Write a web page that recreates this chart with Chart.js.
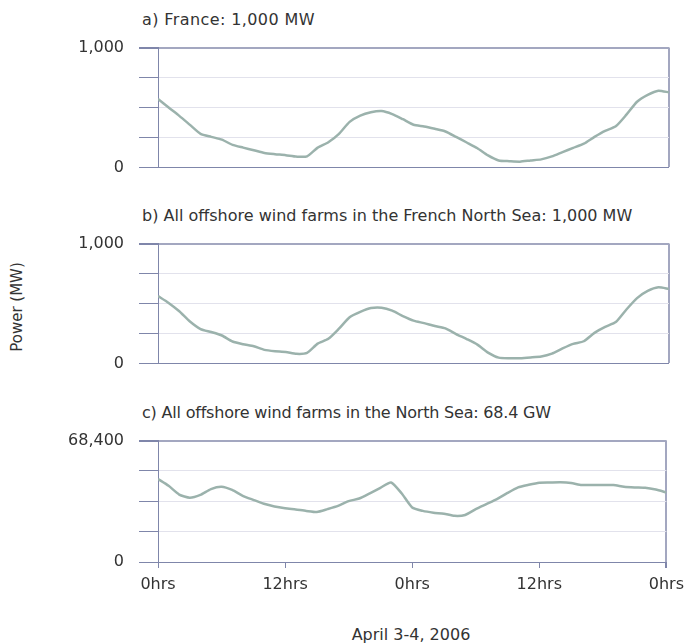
<!DOCTYPE html>
<html>
<head>
<meta charset="utf-8">
<script src="https://cdn.jsdelivr.net/npm/chart.js@4.4.1/dist/chart.umd.min.js"></script>
<style>
  html, body { margin: 0; padding: 0; background: #fff; }
  body { width: 691px; height: 644px; position: relative; overflow: hidden;
         font-family: "DejaVu Sans", sans-serif; color: #333; }
  .box { position: absolute; left: 0; width: 691px; }
  .txt { position: absolute; font-size: 16px; line-height: 19px; white-space: nowrap; }
</style>
</head>
<body>
<div class="txt" style="left:142px; top:10px; letter-spacing:0.4px;">a) France: 1,000 MW</div>
<div class="txt" style="left:142px; top:206px;">b) All offshore wind farms in the French North Sea: 1,000 MW</div>
<div class="txt" style="left:142px; top:403px; letter-spacing:-0.2px;">c) All offshore wind farms in the North Sea: 68.4 GW</div>
<div class="txt" style="left:17px; top:307px; font-size:15px; transform: translate(-50%,-50%) rotate(-90deg);">Power (MW)</div>
<div class="txt" style="left:411px; top:625px; transform: translateX(-50%);">April 3-4, 2006</div>

<div class="box" style="top:23px; height:169px;"><canvas id="chartA"></canvas></div>
<div class="box" style="top:219px; height:169px;"><canvas id="chartB"></canvas></div>
<div class="box" style="top:416px; height:182px;"><canvas id="chartC"></canvas></div>

<script>
// hours after midnight, April 3 (0) to midnight April 5 (48)
const hours = [0,1,2,3,4,5,6,7,8,9,10,11,12,13,14,15,16,17,18,19,20,21,22,23,24,
               25,26,27,28,29,30,31,32,33,34,35,36,37,38,39,40,41,42,43,44,45,46,47,48];

// a) France, MW
const franceMW = [572,500,430,355,280,255,232,188,165,143,120,110,102,90,92,165,210,280,380,432,
                  460,470,445,402,356,342,322,300,255,208,160,100,58,52,48,58,67,92,128,163,
                  198,255,305,343,440,548,605,640,626];

// b) French North Sea offshore, MW
const frenchSeaMW = [562,505,435,350,287,262,233,183,160,143,113,102,96,80,88,165,205,290,385,430,
                     462,465,440,395,357,336,312,292,245,203,157,90,48,43,44,50,58,82,125,163,
                     185,255,305,345,450,545,605,635,622];

// c) whole North Sea offshore, MW
const northSeaMW = [46750,42900,38000,36200,37800,41100,42400,40600,37300,35000,32800,31300,30300,29600,28800,
                    28200,29800,31600,34300,35800,38700,41800,44800,38700,30700,28800,27800,27200,26000,26500,
                    29800,32600,35400,38900,42000,43500,44700,44800,44900,44500,43400,43400,43400,43350,42400,
                    42000,41800,40800,39200];

const xTickLabels = ['0hrs', '12hrs', '0hrs', '12hrs', '0hrs'];

const LINE = '#9bb2ac';
const AXIS = '#7f86aa';
const EDGE = '#a3a7c0';
const GRID = '#e2e2ec';
const FONT = { family: '"DejaVu Sans", sans-serif', size: 16 };

function makePanel(id, values, maxVal, showX) {
    const ctx = document.getElementById(id);
    return new Chart(ctx, {
        type: 'line',
        data: {
            datasets: [{
                data: hours.map((h, i) => ({ x: h, y: values[i] })),
                borderColor: LINE,
                borderWidth: 2.5,
                pointRadius: 0,
                tension: 0.2,
                fill: false
            }]
        },
        options: {
            responsive: true,
            maintainAspectRatio: false,
            animation: false,
            layout: { padding: { top: 12, right: 22, bottom: showX ? 0 : 10, left: 0 } },
            plugins: { legend: { display: false }, tooltip: { enabled: false } },
            scales: {
                x: {
                    type: 'linear',
                    min: 0,
                    max: 48,
                    ticks: {
                        display: showX,
                        stepSize: 12,
                        color: '#333',
                        font: FONT,
                        padding: 7,
                        maxRotation: 0,
                        callback: (v) => xTickLabels[v / 12]
                    },
                    grid: {
                        drawTicks: showX,
                        tickLength: 6,
                        tickColor: AXIS,
                        color: (c) => (c.tick && c.tick.value === 48 ? EDGE : 'rgba(0,0,0,0)'),
                        lineWidth: (c) => (c.tick && c.tick.value === 48 ? 2 : 1)
                    },
                    border: { display: false },
                    afterFit: (s) => { s.height = showX ? 36 : 0; }
                },
                y: {
                    min: 0,
                    max: maxVal,
                    ticks: {
                        stepSize: maxVal / 4,
                        color: '#333',
                        font: FONT,
                        padding: 15,
                        callback: (v) => (v === 0 || v === maxVal ? v.toLocaleString('en-US') : '')
                    },
                    grid: {
                        tickLength: 19,
                        tickColor: AXIS,
                        color: (c) => {
                            if (!c.tick) return GRID;
                            if (c.tick.value === maxVal) return EDGE;
                            if (c.tick.value === 0) return AXIS;
                            return GRID;
                        },
                        lineWidth: (c) => (c.tick && c.tick.value === maxVal ? 2 : 1)
                    },
                    border: { display: true, color: AXIS, width: 1 },
                    afterFit: (s) => { s.width = 158; }
                }
            }
        }
    });
}

makePanel('chartA', franceMW, 1000, false);
makePanel('chartB', frenchSeaMW, 1000, false);
makePanel('chartC', northSeaMW, 68400, true);
</script>
</body>
</html>
